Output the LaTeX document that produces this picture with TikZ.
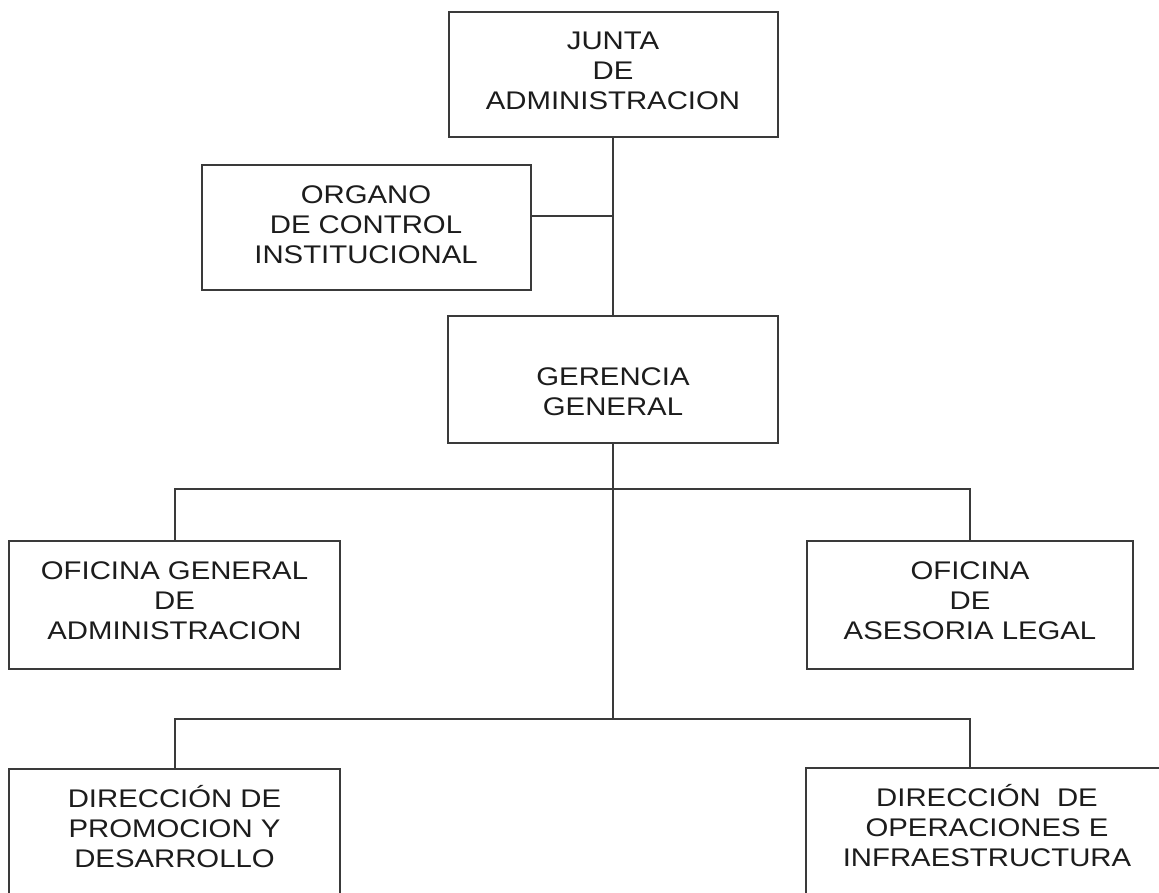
\documentclass[tikz,border=0pt]{standalone}
\usepackage{fontspec}
\setmainfont{Liberation Sans}[FakeStretch=1.15]
\usetikzlibrary{calc}
\definecolor{linecol}{HTML}{3A3A3A}
\definecolor{txtcol}{HTML}{1C1C1C}
\tikzset{
  orgbox/.style={draw=linecol, line width=2pt, fill=none, inner sep=0pt, anchor=center},
  orgtxt/.style={align=center, inner sep=0pt, text=txtcol, font=\fontsize{25.5}{30}\selectfont, anchor=center},
  conn/.style={draw=linecol, line width=2pt}
}
\begin{document}
\begin{tikzpicture}[x=1pt,y=-1pt]
\useasboundingbox (0,0) rectangle (1159,892);
\clip (0,0) rectangle (1159,892);
\fill[white] (0,0) rectangle (1159,892);
% boxes
\node[orgbox, minimum width=329pt, minimum height=125pt] (junta) at (613,74.5) {};
\node[orgbox, minimum width=329pt, minimum height=125pt] (org) at (366.5,227) {};
\node[orgbox, minimum width=330pt, minimum height=127pt] (ger) at (613,379.5) {};
\node[orgbox, minimum width=331pt, minimum height=128pt] (oga) at (174.5,605) {};
\node[orgbox, minimum width=326pt, minimum height=128pt] (ase) at (970,605) {};
\node[orgbox, minimum width=331pt, minimum height=140pt] (dpr) at (174.5,838.5) {};
\node[orgbox, minimum width=362pt, minimum height=140pt] (dop) at (987,838) {};
% texts
\node[orgtxt] (juntaT) at (613,71) {JUNTA\\DE\\ADMINISTRACION};
\node[orgtxt] (orgT) at (366,225) {ORGANO\\DE CONTROL\\INSTITUCIONAL};
\node[orgtxt] (gerT) at (613,391.5) {GERENCIA\\GENERAL};
\node[orgtxt] (ogaT) at (174.5,601) {OFICINA GENERAL\\DE\\ADMINISTRACION};
\node[orgtxt] (aseT) at (970,601) {OFICINA\\DE\\ASESORIA LEGAL};
\node[orgtxt] (dprT) at (174.5,826.5) {DIRECCIÓN DE\\PROMOCION Y\\DESARROLLO};
\node[orgtxt] (dopT) at (987,825.5) {DIRECCIÓN~~DE\\OPERACIONES E\\INFRAESTRUCTURA};
% connectors
\coordinate (bus1) at (613,489);
\coordinate (bus2) at (613,719);
\draw[conn] (junta.south) -- (ger.north);
\draw[conn] ([yshift=11pt]org.east) -- ([yshift=11pt]org.east -| junta.south);
\draw[conn] (ger.south) -- (bus2);
\draw[conn] (oga.north) |- (bus1) -| (ase.north);
\draw[conn] (dpr.north) |- (bus2) -| (dop.north -| ase.north);
\end{tikzpicture}
\end{document}
